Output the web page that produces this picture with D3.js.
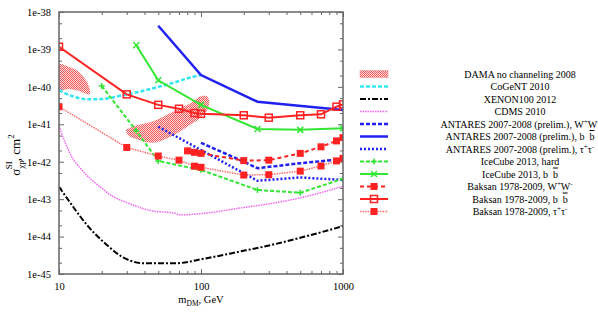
<!DOCTYPE html>
<html>
<head>
<meta charset="utf-8">
<script src="https://cdn.jsdelivr.net/npm/d3@7"></script>
<style>
  body { margin: 0; background: #fff; }
  svg { font-family: "Liberation Serif", "DejaVu Serif", serif; }
</style>
</head>
<body>
<svg id="chart" width="598" height="315"></svg>
<script>
// values: [mass GeV, sigma cm^2]
var damaLow = [[10, 3.84e-40], [11.6, 3.46e-40], [13, 2.94e-40], [14.5, 2.07e-40], [15.7, 1.37e-40],
  [16.4, 9.2e-41], [16.5, 6.3e-41], [15.2, 6.7e-41], [13.7, 7.9e-41], [11.6, 8.8e-41], [10, 8.6e-41]];
var damaHigh = [[29.5, 7.0e-42], [32.7, 8.5e-42], [36.1, 9.6e-42], [45, 1.17e-41], [54.3, 1.6e-41],
  [67.4, 2.4e-41], [83.6, 3.6e-41], [98.4, 5.5e-41], [109.7, 5.7e-41], [114.4, 4.0e-41], [110.6, 2.4e-41],
  [98.4, 1.45e-41], [83.6, 9.6e-42], [67.4, 5.7e-42], [54.3, 3.8e-42], [46.1, 3.2e-42], [38.2, 3.6e-42],
  [31.6, 4.7e-42]];
var cogent = [[10, 8.2e-41], [12.3, 5.7e-41], [16.1, 4.65e-41], [21.1, 4.8e-41], [27.6, 5.9e-41],
  [36.1, 7.3e-41], [47.4, 9.5e-41], [62, 1.24e-40], [81, 1.7e-40], [100, 2.07e-40]];
var xenon = [[10, 2.15e-43], [12.3, 7.0e-44], [16.1, 1.84e-44], [21.1, 6.6e-45], [29.2, 2.6e-45],
  [40.3, 1.93e-45], [65.6, 1.93e-45], [107, 2.6e-45], [183, 3.9e-45], [315, 6.0e-45], [540, 1.0e-44],
  [1000, 1.9e-44]];
var cdms = [[10, 9.0e-42], [11, 3.4e-42], [12.3, 1.36e-42], [14.5, 6.0e-43], [17, 3.25e-43],
  [20.5, 1.83e-43], [22.2, 1.43e-43], [30.8, 7.8e-44], [45, 4.9e-44], [65.6, 4.2e-44], [71, 3.8e-44],
  [107, 4.2e-44], [183, 5.7e-44], [315, 7.7e-44], [540, 1.16e-43], [1000, 2.2e-43]];
var antaresWW = [[100, 3.2e-42], [200, 1.0e-42], [250, 6.7e-43], [500, 9.1e-43], [1000, 1.18e-42]];
var antaresBB = [[50, 4.3e-39], [100, 2.07e-40], [250, 4.0e-41], [1000, 2.4e-41]];
var antaresTau = [[50, 8.6e-42], [250, 3.1e-43], [500, 3.8e-43], [1000, 3.25e-43]];
var icecubeHard = [[20, 1.05e-40], [35, 6.7e-42], [50, 1.05e-42], [100, 6.0e-43], [250, 1.76e-43],
  [500, 1.48e-43], [1000, 3.5e-43]];
var icecubeBB = [[35, 1.3e-39], [50, 1.5e-40], [100, 3.3e-41], [250, 7.5e-42], [500, 7.1e-42], [1000, 7.8e-42]];
var baksanWW = [[80.4, 1.95e-42], [90, 1.78e-42], [100, 1.67e-42], [200, 1.07e-42], [300, 1.1e-42],
  [500, 1.67e-42], [700, 2.5e-42], [900, 3.6e-42], [1000, 4.4e-42]];
var baksanBB = [[10, 1.18e-39], [30, 6.3e-41], [50, 3.3e-41], [70, 2.6e-41], [90, 2.0e-41], [100, 1.9e-41],
  [200, 1.74e-41], [300, 1.5e-41], [500, 1.74e-41], [700, 1.85e-41], [900, 2.95e-41], [1000, 3.4e-41]];
var baksanTau = [[10, 2.95e-41], [30, 2.4e-42], [50, 1.42e-42], [70, 1.1e-42], [90, 7.6e-43], [100, 7.1e-43],
  [200, 4.4e-43], [300, 4.5e-43], [500, 5.6e-43], [700, 7.7e-43], [900, 1.05e-42], [1000, 1.23e-42]];

var xTicks = [10, 100, 1000];
var yTicks = [1e-45, 1e-44, 1e-43, 1e-42, 1e-41, 1e-40, 1e-39, 1e-38];

var svg = d3.select('#chart');
var margin = {left: 59, right: 255, top: 12, bottom: 41};
var W = 598, H = 315;

var x = d3.scaleLog().domain([10, 1000]).range([margin.left, W - margin.right]);
var y = d3.scaleLog().domain([1e-45, 1e-38]).range([H - margin.bottom, margin.top]);

var pBottom = H - margin.bottom, pTop = margin.top, pLeft = margin.left, pRight = W - margin.right;

// checker fill for DAMA
var defs = svg.append('defs');
var pat = defs.append('pattern').attr('id', 'check')
  .attr('width', 2).attr('height', 2).attr('patternUnits', 'userSpaceOnUse');
pat.append('rect').attr('width', 2).attr('height', 2).attr('fill', '#ffdada');
pat.append('rect').attr('width', 1).attr('height', 1).attr('fill', '#f05a5a');
pat.append('rect').attr('x', 1).attr('y', 1).attr('width', 1).attr('height', 1).attr('fill', '#f05a5a');
defs.append('clipPath').attr('id', 'plot')
  .append('rect').attr('x', pLeft).attr('y', pTop)
  .attr('width', pRight - pLeft).attr('height', pBottom - pTop);

// minor ticks
var xMinor = [];
[10, 100].forEach(function(d) { for (var k = 2; k < 10; k++) xMinor.push(d * k); });
var yMinor = [];
yTicks.slice(0, -1).forEach(function(d) { yMinor.push(d * 2); yMinor.push(d * 5); });

function axisStyle(g) {
  g.attr('font-family', null);
  g.select('.domain').remove();
  g.selectAll('line').attr('stroke', '#666').attr('stroke-width', 1);
  g.selectAll('text').attr('font-size', 10.5).attr('fill', '#000');
}

svg.append('g').attr('transform', 'translate(0,' + pBottom + ')')
  .call(d3.axisBottom(x).tickValues(xTicks).tickFormat(d3.format('d')).tickSize(-5).tickPadding(9))
  .call(axisStyle);
svg.append('g').attr('transform', 'translate(0,' + pBottom + ')')
  .call(d3.axisBottom(x).tickValues(xMinor).tickFormat('').tickSize(-3)).call(axisStyle);
svg.append('g').attr('transform', 'translate(0,' + pTop + ')')
  .call(d3.axisTop(x).tickValues(xTicks).tickFormat('').tickSize(-5)).call(axisStyle);
svg.append('g').attr('transform', 'translate(0,' + pTop + ')')
  .call(d3.axisTop(x).tickValues(xMinor).tickFormat('').tickSize(-3)).call(axisStyle);

svg.append('g').attr('transform', 'translate(' + pLeft + ',0)')
  .call(d3.axisLeft(y).tickValues(yTicks).tickSize(-5).tickPadding(8)
    .tickFormat(function(d) { return '1e' + Math.round(Math.log10(d)); }))
  .call(axisStyle);
svg.append('g').attr('transform', 'translate(' + pLeft + ',0)')
  .call(d3.axisLeft(y).tickValues(yMinor).tickFormat('').tickSize(-3)).call(axisStyle);
svg.append('g').attr('transform', 'translate(' + pRight + ',0)')
  .call(d3.axisRight(y).tickValues(yTicks).tickFormat('').tickSize(-5)).call(axisStyle);
svg.append('g').attr('transform', 'translate(' + pRight + ',0)')
  .call(d3.axisRight(y).tickValues(yMinor).tickFormat('').tickSize(-3)).call(axisStyle);

var plot = svg.append('g').attr('clip-path', 'url(#plot)');

var blob = d3.line().x(function(d) { return x(d[0]); }).y(function(d) { return y(d[1]); })
  .curve(d3.curveCardinalClosed.tension(0.3));
[damaLow, damaHigh].forEach(function(a) {
  plot.append('path').attr('d', blob(a)).attr('fill', 'url(#check)').attr('stroke', 'none');
});

var smooth = d3.line().x(function(d) { return x(d[0]); }).y(function(d) { return y(d[1]); })
  .curve(d3.curveMonotoneX);
var straight = d3.line().x(function(d) { return x(d[0]); }).y(function(d) { return y(d[1]); });

var series = [
  {name: 'CoGeNT 2010', data: cogent, color: '#33e6f2', dash: '4,2', width: 2.5, line: smooth},
  {name: 'XENON100 2012', data: xenon, color: '#000', dash: '6,2,2,2', width: 2, line: smooth},
  {name: 'CDMS 2010', data: cdms, color: '#f266f2', dash: '1.5,1', width: 1.5, line: smooth},
  {name: 'ANTARES 2007-2008 (prelim.), W+W-', data: antaresWW, color: '#2020f0', dash: '4,2', width: 2.5, line: straight, lab: 'ww'},
  {name: 'ANTARES 2007-2008 (prelim.), b b', data: antaresBB, color: '#2020f0', dash: null, width: 2.5, line: straight, lab: 'bb'},
  {name: 'ANTARES 2007-2008 (prelim.), t+t-', data: antaresTau, color: '#2020f0', dash: '2,2', width: 2.5, line: straight, lab: 'tt'},
  {name: 'IceCube 2013, hard', data: icecubeHard, color: '#33e633', dash: '4,2', width: 2, line: straight, mark: 'plus'},
  {name: 'IceCube 2013, b b', data: icecubeBB, color: '#33e633', dash: null, width: 2, line: straight, mark: 'cross', lab: 'bb'},
  {name: 'Baksan 1978-2009, W+W-', data: baksanWW, color: '#f22', dash: '4,3', width: 2, line: straight, mark: 'fill', lab: 'ww'},
  {name: 'Baksan 1978-2009, b b', data: baksanBB, color: '#f22', dash: null, width: 2, line: straight, mark: 'open', lab: 'bb'},
  {name: 'Baksan 1978-2009, t+t-', data: baksanTau, color: '#ff6e6e', dash: '1.5,1', width: 1.5, line: straight, mark: 'fill', mcolor: '#f22', lab: 'tt'}
];

function marker(g, type, cx, cy, color) {
  if (type === 'fill') {
    g.append('rect').attr('x', cx - 3.5).attr('y', cy - 3.5).attr('width', 7).attr('height', 7).attr('fill', color);
  } else if (type === 'open') {
    g.append('rect').attr('x', cx - 3.5).attr('y', cy - 3.5).attr('width', 7).attr('height', 7)
      .attr('fill', 'none').attr('stroke', color).attr('stroke-width', 1.5);
  } else if (type === 'plus') {
    g.append('path').attr('d', 'M' + (cx - 3) + ',' + cy + 'h6M' + cx + ',' + (cy - 3) + 'v6')
      .attr('stroke', color).attr('stroke-width', 1.5);
  } else if (type === 'cross') {
    g.append('path').attr('d', 'M' + (cx - 3) + ',' + (cy - 3) + 'l6,6M' + (cx - 3) + ',' + (cy + 3) + 'l6,-6')
      .attr('stroke', color).attr('stroke-width', 1.5);
  }
}

series.forEach(function(s) {
  plot.append('path').attr('d', s.line(s.data)).attr('fill', 'none')
    .attr('stroke', s.color).attr('stroke-width', s.width)
    .attr('stroke-dasharray', s.dash);
  if (s.mark) s.data.forEach(function(d) { marker(plot, s.mark, x(d[0]), y(d[1]), s.mcolor || s.color); });
});

// frame
svg.append('rect').attr('x', pLeft).attr('y', pTop).attr('width', pRight - pLeft).attr('height', pBottom - pTop)
  .attr('fill', 'none').attr('stroke', '#666').attr('stroke-width', 1.5);

// legend
var legend = svg.append('g').attr('font-size', 10);
var ly0 = 74, lstep = 12.5, lx0 = 360, lx1 = 388, ltx = 520;
legend.append('rect').attr('x', lx0).attr('y', ly0 - 3.5).attr('width', lx1 - lx0).attr('height', 7)
  .attr('fill', 'url(#check)').attr('stroke', '#f88').attr('stroke-width', 0.5);
legend.append('text').attr('x', ltx).attr('y', ly0 + 3.5).attr('text-anchor', 'middle').text('DAMA no channeling 2008');

series.forEach(function(s, i) {
  var ly = ly0 + (i + 1) * lstep;
  legend.append('line').attr('x1', lx0).attr('x2', lx1).attr('y1', ly).attr('y2', ly)
    .attr('stroke', s.color).attr('stroke-width', s.width).attr('stroke-dasharray', s.dash);
  if (s.mark) marker(legend, s.mark, (lx0 + lx1) / 2, ly, s.mcolor || s.color);
  var t = legend.append('text').attr('x', ltx).attr('y', ly + 3.5).attr('text-anchor', 'middle');
  var base = s.name.split(', ');
  if (!s.lab) { t.text(s.name); return; }
  t.append('tspan').text(base[0] + ', ');
  if (s.lab === 'ww') {
    t.append('tspan').text('W');
    t.append('tspan').attr('dy', -4).attr('font-size', 7).text('+');
    t.append('tspan').attr('dy', 4).text('W');
    t.append('tspan').attr('dy', -4).attr('font-size', 7).text('-');
  } else if (s.lab === 'tt') {
    t.append('tspan').text('\u03c4');
    t.append('tspan').attr('dy', -4).attr('font-size', 7).text('+');
    t.append('tspan').attr('dy', 4).text('\u03c4');
    t.append('tspan').attr('dy', -4).attr('font-size', 7).text('-');
  } else {
    t.append('tspan').text('b\u2002');
    t.append('tspan').style('text-decoration', 'overline').text('b');
  }
});

// axis titles
var xt = svg.append('text').attr('x', (pLeft + pRight) / 2).attr('y', 303).attr('text-anchor', 'middle')
  .attr('font-size', 10.5);
xt.append('tspan').text('m');
xt.append('tspan').attr('dy', 3).attr('font-size', 7.5).text('DM');
xt.append('tspan').attr('dy', -3).text(', GeV');

var yt = svg.append('text').attr('transform', 'translate(20,155) rotate(-90)')
  .attr('text-anchor', 'middle').attr('font-size', 13);
yt.append('tspan').text('\u03c3');
yt.append('tspan').attr('dy', 4).attr('font-size', 9).text('\u03c7p');
yt.append('tspan').attr('dy', -12).attr('dx', -9).attr('font-size', 9).text('SI');
yt.append('tspan').attr('dy', 8).text(', cm');
yt.append('tspan').attr('dy', -6).attr('font-size', 9).text('2');
</script>
</body>
</html>
